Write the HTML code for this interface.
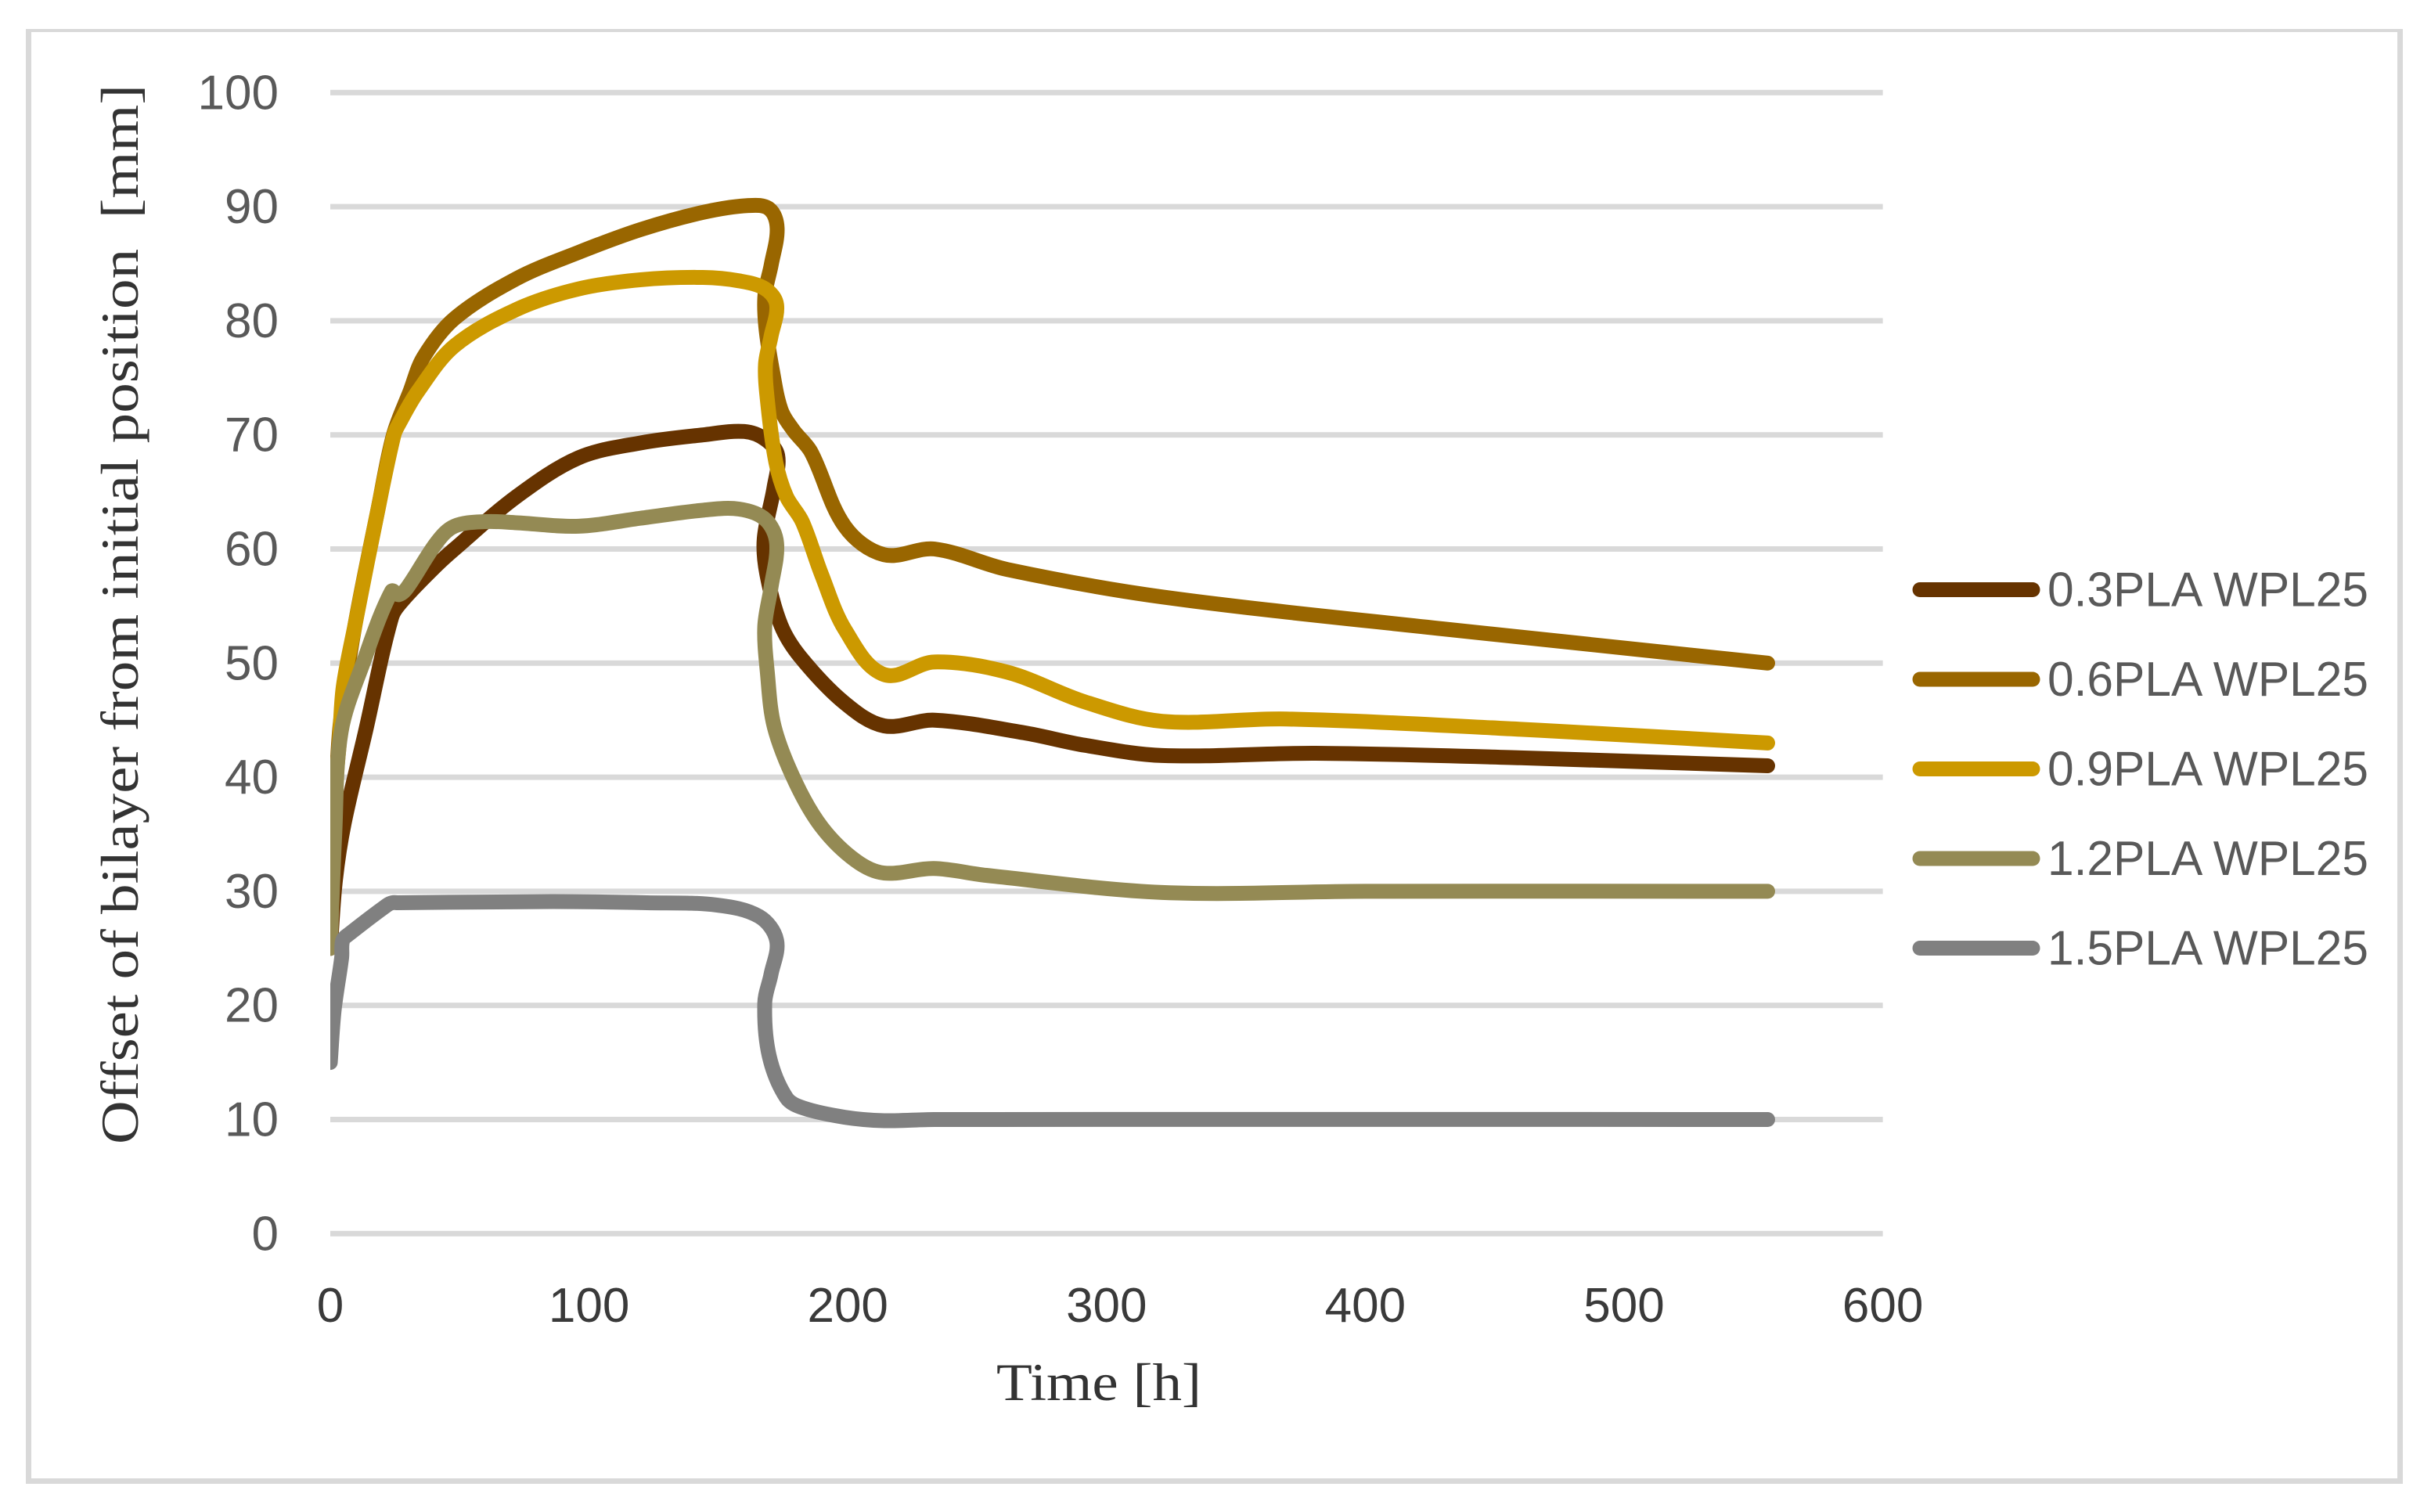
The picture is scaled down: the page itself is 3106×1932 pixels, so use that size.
<!DOCTYPE html>
<html lang="en">
<head>
<meta charset="utf-8">
<title>Offset of bilayer from initial position over time</title>
<style>
html,body{margin:0;padding:0;background:#fff;}
svg{display:block;}
text{white-space:pre;}
</style>
</head>
<body>
<svg id="chart" xmlns="http://www.w3.org/2000/svg" width="3106" height="1932" viewBox="0 0 3106 1932">
  <rect x="0" y="0" width="3106" height="1932" fill="#ffffff"/>
  <rect x="33" y="37" width="3037" height="4" fill="#d9d9d9"/>
  <rect x="33" y="37" width="7" height="1859" fill="#d9d9d9"/>
  <rect x="3063" y="37" width="7" height="1859" fill="#d9d9d9"/>
  <rect x="33" y="1889" width="3037" height="7" fill="#d9d9d9"/>
  <defs>
    <clipPath id="plot-clip"><rect x="422" y="40" width="2100" height="1600"/></clipPath>
  </defs>
  <g id="grid"></g>
  <g id="ylabels"></g>
  <g id="xlabels"></g>
  <g id="series" clip-path="url(#plot-clip)"></g>
  <g id="legend"></g>
  <text transform="translate(176,785) rotate(-90)" text-anchor="middle" font-family="'Liberation Serif',serif" font-size="68" fill="#333333" textLength="1354" lengthAdjust="spacingAndGlyphs">Offset of bilayer from initial position  [mm]</text>
  <text x="1404" y="1789" text-anchor="middle" font-family="'Liberation Serif',serif" font-size="68" fill="#333333" textLength="262" lengthAdjust="spacingAndGlyphs">Time [h]</text>
</svg>
<script>
var yTicks = [0, 10, 20, 30, 40, 50, 60, 70, 80, 90, 100];
var xTicks = [0, 100, 200, 300, 400, 500, 600];

var seriesNames = ["0.3PLA WPL25", "0.6PLA WPL25", "0.9PLA WPL25", "1.2PLA WPL25", "1.5PLA WPL25"];
var seriesColors = ["#663300", "#996600", "#cc9900", "#948a54", "#808080"];

var time03 = [0, 2, 5.4, 13.6, 23.7, 28, 41.2, 48, 72, 96, 120, 144, 160, 168.2, 172.9, 171.5, 167.7, 168.7, 174.2, 181.8, 198.8, 214, 233.5, 268, 291.6, 321.5, 381, 460, 555.5];
var value03 = [25, 31, 36, 44, 54, 55.5, 58.6, 60, 64.6, 68, 69.3, 70, 70.3, 69.6, 68.2, 65.4, 60.9, 57.8, 53.3, 50.5, 46.5, 44.5, 45, 43.9, 42.8, 41.9, 42.1, 41.7, 41];

var time06 = [0, 1, 2.7, 4, 9.6, 18.45, 24.4, 30.8, 36, 48, 72, 96, 120, 144, 161.6, 169.7, 172.7, 170.4, 168, 168.3, 170.9, 174.2, 179, 185.8, 198.8, 214, 233.5, 261.7, 321.5, 430, 555.5];
var value06 = [30, 36.5, 41.3, 45, 53.4, 63.5, 70, 73.8, 76.8, 80.2, 83.7, 86, 88, 89.5, 90.1, 89.8, 88.1, 84.9, 82.3, 79.5, 75.6, 72.2, 70.4, 68.5, 62, 59.5, 60, 58.2, 55.8, 53, 50];

var time09 = [0, 1, 2.7, 3.5, 5, 9.6, 18.45, 24.6, 26.6, 33.8, 48, 72, 96, 120, 144, 158, 168.1, 172.5, 170.3, 168.2, 168.9, 172.2, 176.3, 182.4, 189.8, 199, 214, 233.5, 261.7, 291.6, 321.5, 369.5, 460, 555.5];
var value09 = [30, 36, 41, 43, 47.9, 53.4, 63.5, 70, 71, 73.8, 77.8, 81, 82.8, 83.6, 83.8, 83.5, 82.8, 81.4, 78.6, 76.2, 73.1, 67.6, 64.6, 62.4, 57.8, 52.9, 49, 50.1, 49.2, 46.6, 44.9, 45.1, 44.2, 43];

var time12 = [0, 1.7, 4.2, 13, 23.7, 26.5, 29.7, 41.2, 48, 60, 72, 96, 120, 144, 158, 168.1, 172.5, 170.3, 167.9, 168.9, 171.6, 179.9, 190, 203, 214, 233.3, 253.5, 321.5, 400, 555.5];
var value12 = [25, 34.9, 44, 50.2, 56.3, 56, 56.6, 60.6, 62, 62.4, 62.3, 62, 62.7, 63.4, 63.5, 62.6, 60.5, 56.6, 53.2, 49.2, 44.4, 39.5, 35.6, 32.7, 31.6, 32, 31.4, 29.9, 30, 30];

var time15 = [0, 1.5, 4.4, 4.8, 7.5, 22, 24, 26, 86, 122.3, 149.3, 165.7, 172.5, 170.3, 167.9, 169.6, 176.3, 182.9, 198.8, 214, 233.5, 555.5];
var value15 = [15, 19.6, 24.2, 25.7, 26.3, 28.8, 29, 29, 29.1, 29, 28.8, 27.8, 25.7, 22.7, 20.2, 15.6, 11.9, 11, 10.2, 9.9, 10, 10];

var seriesTimes = [time03, time06, time09, time12, time15];
var seriesValues = [value03, value06, value09, value12, value15];

var NS = "http://www.w3.org/2000/svg";
function scaleX(t) { return 422 + t * 3.306; }
function scaleY(v) { return 1576.3 - v * 14.58; }

function svgEl(tag, parent) {
  var el = document.createElementNS(NS, tag);
  parent.appendChild(el);
  return el;
}

function smoothPath(ts, vs) {
  var pts = ts.map(function (t, i) { return [scaleX(t), scaleY(vs[i])]; });
  var d = "M" + pts[0][0].toFixed(2) + " " + pts[0][1].toFixed(2);
  for (var i = 0; i < pts.length - 1; i++) {
    var p0 = pts[i === 0 ? 0 : i - 1];
    var p1 = pts[i];
    var p2 = pts[i + 1];
    var p3 = pts[i + 2 < pts.length ? i + 2 : i + 1];
    var seg = Math.hypot(p2[0] - p1[0], p2[1] - p1[1]);
    var l1 = Math.hypot(p2[0] - p0[0], p2[1] - p0[1]) || 1;
    var l2 = Math.hypot(p3[0] - p1[0], p3[1] - p1[1]) || 1;
    var k = seg / 3;
    var c1x = p1[0] + (p2[0] - p0[0]) / l1 * k;
    var c1y = p1[1] + (p2[1] - p0[1]) / l1 * k;
    var c2x = p2[0] - (p3[0] - p1[0]) / l2 * k;
    var c2y = p2[1] - (p3[1] - p1[1]) / l2 * k;
    d += "C" + c1x.toFixed(2) + " " + c1y.toFixed(2) + " " + c2x.toFixed(2) + " " + c2y.toFixed(2) + " " + p2[0].toFixed(2) + " " + p2[1].toFixed(2);
  }
  return d;
}

var gridG = document.getElementById("grid");
var yG = document.getElementById("ylabels");
var xG = document.getElementById("xlabels");
var seriesG = document.getElementById("series");
var legendG = document.getElementById("legend");

yTicks.forEach(function (v) {
  var line = svgEl("rect", gridG);
  
  
  line.setAttribute("x", scaleX(0));
  line.setAttribute("y", scaleY(v) - 3.5);
  line.setAttribute("width", scaleX(600) - scaleX(0));
  line.setAttribute("height", 7);
  line.setAttribute("fill", "#d9d9d9");

  var label = svgEl("text", yG);
  
  
  label.setAttribute("x", 356);
  label.setAttribute("y", scaleY(v) + 21);
  label.setAttribute("text-anchor", "end");
  label.setAttribute("font-family", "'Liberation Sans',sans-serif");
  label.setAttribute("font-size", "62");
  label.setAttribute("fill", "#595959");
  label.textContent = v;
});

xTicks.forEach(function (t) {
  var label = svgEl("text", xG);
  
  
  label.setAttribute("x", scaleX(t));
  label.setAttribute("y", 1689);
  label.setAttribute("text-anchor", "middle");
  label.setAttribute("font-family", "'Liberation Sans',sans-serif");
  label.setAttribute("font-size", "62");
  label.setAttribute("fill", "#3a3a3a");
  label.textContent = t;
});

seriesNames.forEach(function (name, i) {
  var path = svgEl("path", seriesG);
  
  
  path.setAttribute("d", smoothPath(seriesTimes[i], seriesValues[i]));
  path.setAttribute("fill", "none");
  path.setAttribute("stroke", seriesColors[i]);
  path.setAttribute("stroke-width", "19");
  path.setAttribute("stroke-linecap", "round");
  path.setAttribute("stroke-linejoin", "round");

  var cy = 753.5 + i * 114.5;
  var swatch = svgEl("line", legendG);
  
  
  swatch.setAttribute("x1", 2453);
  swatch.setAttribute("x2", 2597);
  swatch.setAttribute("y1", cy);
  swatch.setAttribute("y2", cy);
  swatch.setAttribute("stroke", seriesColors[i]);
  swatch.setAttribute("stroke-width", "19");
  swatch.setAttribute("stroke-linecap", "round");

  var label = svgEl("text", legendG);
  
  
  label.setAttribute("x", 2616);
  label.setAttribute("y", cy + 21);
  label.setAttribute("font-family", "'Liberation Sans',sans-serif");
  label.setAttribute("font-size", "62");
  label.setAttribute("fill", "#595959");
  label.setAttribute("textLength", "410");
  label.setAttribute("lengthAdjust", "spacingAndGlyphs");
  label.textContent = name;
});
</script>
</body>
</html>
